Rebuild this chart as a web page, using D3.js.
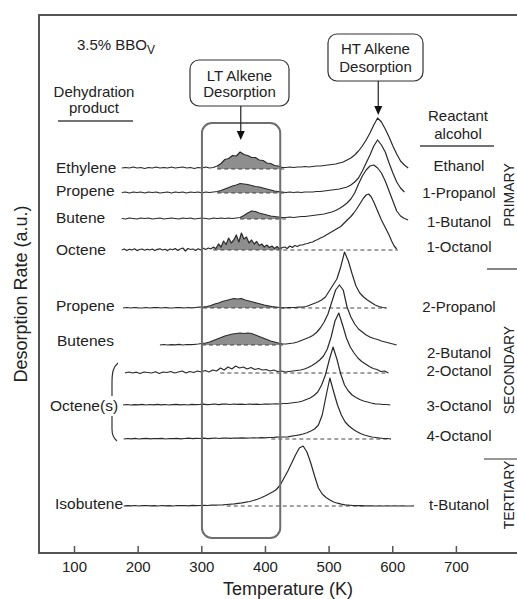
<!DOCTYPE html>
<html>
<head>
<meta charset="utf-8">
<script src="https://cdn.jsdelivr.net/npm/d3@7"></script>
<style>
  html, body { margin: 0; padding: 0; background: #fff; }
  svg { display: block; font-family: "Liberation Sans", Arial, Helvetica, sans-serif; }
</style>
</head>
<body>
<svg id="chart" width="517" height="599"></svg>
<script>
// ---- Data -------------------------------------------------------------
// Reactant alcohols, one TPD trace each (top to bottom)
const alcohols = ["Ethanol", "1-Propanol", "1-Butanol", "1-Octanol",
                  "2-Propanol", "2-Butanol", "2-Octanol", "3-Octanol", "4-Octanol",
                  "t-Butanol"];
// Dehydration product named beside each trace ("" = covered by a group label)
const products = ["Ethylene", "Propene", "Butene", "Octene",
                  "Propene", "Butenes", "", "Octene(s)", "",
                  "Isobutene"];
const alcoholClasses = ["PRIMARY", "SECONDARY", "TERTIARY"];
// Vertical offset of each trace (a.u.)
const offsets = [38.4, 36.0, 33.4, 30.3, 24.5, 20.8, 18.0, 14.8, 11.4, 4.7];
// First temperature (K) and temperature step (K) of each trace
const traceStart = [175, 175, 175, 175, 177, 235, 180, 177, 178, 178];
const traceStep  = [6, 6, 6, 4, 6, 6, 6, 6, 6, 6];

// Desorption rate above each trace's offset (a.u.)
const rateEthanol = [
  0.1, 0.15, 0.1, 0.2, 0.1, 0.15, 0.05, 0.15, 0.1, 0.2, 0.1, 0.15, 0.1, 0.2, 0.1, 0.15, 0.2, 0.1, 0.15, 0.05, 0.15, 0.1, 0.2, 0.1, 0.15,
  0.3, 0.55, 0.95, 1.05, 1.35, 1.3, 1.7, 1.45, 1.35, 1.15, 1.15, 0.9, 0.85, 0.6, 0.55, 0.35, 0.3, 0.15,
  0.15, 0.2, 0.15, 0.2, 0.2, 0.25, 0.2, 0.25, 0.3, 0.3, 0.35, 0.4, 0.45, 0.5, 0.6, 0.7, 0.9, 1.1, 1.4, 1.8,
  2.3, 2.9, 3.6, 4.4, 5.1, 4.7, 4.0, 3.2, 2.3, 1.5, 0.8, 0.4, 0.1];
const rate1Propanol = [
  0.05, 0.1, 0, 0.1, 0.05, 0.1, 0, 0.1, 0.05, 0.1, 0, 0.05, 0.1, 0, 0.1, 0.05, 0.1, 0, 0.1, 0.05, 0.1, 0, 0.1, 0.05, 0.1,
  0.15, 0.25, 0.4, 0.55, 0.7, 0.8, 0.95, 0.9, 0.85, 0.75, 0.65, 0.6, 0.5, 0.4, 0.3, 0.2, 0.15, 0.1,
  0.05, 0.1, 0.05, 0.1, 0.05, 0.1, 0.1, 0.1, 0.15, 0.15, 0.2, 0.25, 0.3, 0.35, 0.4, 0.5, 0.6, 0.8, 1.1, 1.5,
  2.2, 3.0, 3.8, 4.7, 5.3, 4.8, 4.1, 3.0, 2.0, 1.1, 0.5, 0.1];
const rate1Butanol = [
  0.05, 0, 0.1, 0.05, 0, 0.1, 0.05, 0.1, 0, 0.05, 0.1, 0, 0.05, 0.1, 0.05, 0, 0.1, 0.05, 0.1, 0, 0.05, 0.1, 0.05, 0, 0.1, 0.05, 0.1, 0.05, 0.1, 0.05, 0.1,
  0.15, 0.35, 0.6, 0.8, 0.75, 0.6, 0.5, 0.4, 0.3, 0.25, 0.2, 0.15, 0.15, 0.2, 0.15, 0.2, 0.25, 0.25, 0.3, 0.35,
  0.4, 0.45, 0.5, 0.6, 0.7, 0.85, 1.05, 1.3, 1.6, 2.0, 2.6, 3.5, 4.3, 4.9, 5.3, 5.4, 5.1, 4.6, 3.8, 2.8,
  1.8, 0.8, 0.3, 0.05, -0.1];
const rate1Octanol = [
  0, 0.1, -0.05, 0.08, 0, 0.12, -0.06, 0.05, 0.1, -0.02, 0.08, 0, 0.1, -0.05, 0.06, 0.12, 0, 0.08, -0.06, 0.1,
  0.02, 0.14, -0.04, 0.1, 0.2, -0.1, 0.15, 0.05, 0.1, -0.05, 0.12, 0, 0.18, 0.05, 0.2, 0.1,
  0.3, 0.15, 0.6, 0.3, 0.9, 0.55, 1.2, 0.7, 1.0, 1.5, 0.8, 1.7, 1.1, 1.3, 0.7, 1.0, 0.6, 0.85, 0.45, 0.6,
  0.3, 0.5, 0.25, 0.4, 0.15, 0.35, 0.1, 0.25,
  0.3, 0.15, 0.4, 0.25, 0.45, 0.35, 0.5, 0.5, 0.6, 0.65, 0.75, 0.8, 0.95, 1.05, 1.2, 1.3, 1.45, 1.6, 1.75, 1.9,
  2.05, 2.2, 2.35, 2.6, 2.85, 3.1, 3.35, 3.65, 4.0, 4.4, 4.8, 5.2, 5.5, 5.6, 5.3, 4.8, 4.2, 3.6, 3.0, 2.5,
  2.0, 1.5, 0.9, 0.4, 0.1];
const rate2Propanol = [
  0, 0.05, 0, 0.05, 0.02, 0, 0.05, 0, 0.03, 0.05, 0, 0.05, 0.02, 0, 0.05, 0.03, 0, 0.05, 0.02, 0.05, 0.08, 0.1,
  0.15, 0.25, 0.4, 0.5, 0.65, 0.75, 0.85, 0.95, 0.9, 0.95, 0.8, 0.7, 0.6, 0.5, 0.4, 0.3, 0.22, 0.15, 0.1, 0.05, 0.02,
  0.03, 0.05, 0.05, 0.08, 0.1, 0.15, 0.3, 0.45, 0.6, 0.8, 1.1, 1.7, 2.3, 2.9, 4.1, 5.6, 4.7, 3.4, 2.2, 1.5,
  1.1, 0.8, 0.55, 0.3, 0.15, 0.05, 0];
const rate2Butanol = [
  0, 0.05, 0, 0.04, 0.02, 0.06, 0, 0.05, 0.03, 0.06, 0.1, 0.15,
  0.2, 0.3, 0.45, 0.6, 0.75, 0.9, 1.0, 1.1, 1.15, 1.2, 1.15, 1.2, 1.15, 1.0, 0.85, 0.7, 0.55, 0.4, 0.3, 0.2, 0.12,
  0.1, 0.15, 0.2, 0.3, 0.45, 0.6, 0.75, 0.95, 1.25, 1.7, 2.3, 3.1, 4.3, 5.5, 6.0, 5.5, 3.8, 2.8, 2.1, 1.6,
  1.3, 1.0, 0.8, 0.65, 0.55, 0.4, 0.3, 0.2, 0.1, 0];
const rate2Octanol = [
  0, 0.1, 0, 0.08, -0.05, 0.1, 0.05, 0, 0.12, -0.05, 0.1, 0.05, 0.15, 0, 0.1, 0.2, 0, 0.15, 0.05, 0.2, 0.1, 0.25, 0.1, 0.3,
  0.2, 0.5, 0.3, 0.6, 0.4, 0.7, 0.5, 0.6, 0.4, 0.55, 0.35, 0.45, 0.3, 0.35, 0.2, 0.3, 0.15, 0.2, 0.1,
  0.15, 0.2, 0.25, 0.3, 0.4, 0.55, 0.75, 1.0, 1.3, 1.7, 2.4, 3.6, 5.2, 6.0, 4.8, 3.5, 2.6, 2.0, 1.5, 1.15,
  0.9, 0.65, 0.45, 0.35, 0.15, 0.2, 0];
const rate3Octanol = [
  0, 0.05, 0, 0.04, 0.02, 0.06, 0, 0.05, 0.02, 0.06, 0.01, 0.05, 0, 0.04, 0.06, 0.02, 0.05, 0, 0.06, 0.03, 0.05, 0.08,
  0.03, 0.06, 0.1, 0.04, 0.08, 0.1, 0.05, 0.1, 0.06, 0.08, 0.05, 0.1, 0.06, 0.09, 0.05, 0.1, 0.08, 0.1, 0.12, 0.1, 0.15, 0.15,
  0.2, 0.25, 0.3, 0.4, 0.55, 0.7, 0.95, 1.3, 2.0, 3.0, 4.5, 5.8, 4.6, 3.1, 2.0, 1.4, 1.0, 0.75, 0.55, 0.4,
  0.3, 0.2, 0.12, 0.1, 0.05, 0.05, 0];
const rate4Octanol = [
  0, 0.05, 0.02, 0.06, 0, 0.04, 0.06, 0.01, 0.05, 0.03, 0.06, 0, 0.05, 0.04, 0.07, 0.02, 0.05, 0.08, 0.03, 0.06, 0.05,
  0.08, 0.04, 0.07, 0.1, 0.05, 0.08, 0.1, 0.06, 0.1, 0.08, 0.12, 0.08, 0.1, 0.12, 0.1, 0.14, 0.12, 0.15, 0.15, 0.18, 0.2,
  0.2, 0.22, 0.28, 0.35, 0.42, 0.5, 0.62, 0.8, 1.0, 1.4, 2.4, 4.3, 6.1, 4.7, 3.4, 2.4, 1.7, 1.3, 1.0, 0.75,
  0.55, 0.4, 0.3, 0.2, 0.15, 0.1, 0.05, 0.05, 0];
const rateTButanol = [
  0, 0.04, 0.01, 0.05, 0, 0.03, 0.05, 0.01, 0.04, 0, 0.05, 0.02, 0.04, 0, 0.05, 0.03, 0.05, 0.02, 0.06, 0.03, 0.05, 0.07, 0.05, 0.08, 0.08,
  0.1, 0.12, 0.15, 0.18, 0.22, 0.27, 0.32, 0.38, 0.45, 0.55, 0.68, 0.82, 1.0, 1.2, 1.4, 1.65, 2.1, 2.8, 3.5, 4.3,
  5.1, 5.8, 6.0, 5.4, 4.3, 3.0, 1.8, 1.2, 0.85, 0.6, 0.4, 0.28, 0.18, 0.12, 0.08, 0.05, 0.04, 0.03, 0.02, 0.02,
  0.01, 0, 0.01, 0, 0.01, 0, 0.01, 0, 0.01, 0, 0, 0.01];
const rates = [rateEthanol, rate1Propanol, rate1Butanol, rate1Octanol,
               rate2Propanol, rate2Butanol, rate2Octanol, rate3Octanol, rate4Octanol,
               rateTButanol];

// Shaded low-temperature alkene desorption (K range), per trace
const ltShade = [[325, 427], [325, 427], [361, 427], [319, 427],
                 [303, 429], [301, 427], null, null, null, null];
// Dashed zero line under each trace (K range)
const zeroLine = [[325, 433], [325, 433], [361, 433], [319, 609],
                  [303, 591], [301, 433], [330, 594], null, [410, 598], [340, 555]];

// Temperature window of the LT / HT features (K)
const ltWindow = [301, 424];
const ltArrowT = 362;
const htArrowT = 578;
const xTicks = [100, 200, 300, 400, 500, 600, 700];

// ---- Layout -----------------------------------------------------------
const svg = d3.select("#chart");
const plot = { left: 39, right: 517, top: 15, bottom: 553 };
const x = d3.scaleLinear().domain([45, 796]).range([plot.left, plot.right]);
const y = d3.scaleLinear().domain([0, 53.8]).range([plot.bottom, plot.top]);
const ink = "#222";
const fs = 15;

// traces
rates.forEach((vals, i) => {
  const pts = vals.map((v, k) => ({ t: traceStart[i] + k * traceStep[i], v }));
  const base = offsets[i];
  if (ltShade[i]) {
    const seg = pts.filter(p => p.t >= ltShade[i][0] && p.t <= ltShade[i][1]);
    svg.append("path")
      .attr("d", d3.area().x(p => x(p.t)).y0(y(base)).y1(p => y(base + Math.max(p.v, 0)))(seg))
      .attr("fill", "#8e8e8e");
  }
  if (zeroLine[i]) {
    svg.append("line")
      .attr("x1", x(zeroLine[i][0])).attr("x2", x(zeroLine[i][1]))
      .attr("y1", y(base)).attr("y2", y(base))
      .attr("stroke", "#444").attr("stroke-width", 1)
      .attr("stroke-dasharray", "4,3");
  }
  svg.append("path")
    .attr("d", d3.line().x(p => x(p.t)).y(p => y(base + p.v))(pts))
    .attr("fill", "none").attr("stroke", "#2a2a2a").attr("stroke-width", 1.2)
    .attr("stroke-linejoin", "round");
});

// LT window box
svg.append("rect")
  .attr("x", x(ltWindow[0])).attr("y", 123)
  .attr("width", x(ltWindow[1]) - x(ltWindow[0])).attr("height", 538 - 123)
  .attr("rx", 10).attr("ry", 10)
  .attr("fill", "none").attr("stroke", "#6e6e6e").attr("stroke-width", 2);

// frame: left, top, bottom
svg.append("path")
  .attr("d", `M${plot.right},${plot.top} H${plot.left} V${plot.bottom} H${plot.right}`)
  .attr("fill", "none").attr("stroke", "#555").attr("stroke-width", 2);

// x axis ticks and labels
const xAxis = d3.axisBottom(x).tickValues(xTicks).tickSizeInner(-7).tickSizeOuter(0).tickPadding(8);
const gx = svg.append("g").attr("transform", `translate(0,${plot.bottom})`).call(xAxis);
gx.select(".domain").remove();
gx.selectAll(".tick line").attr("stroke", "#555").attr("stroke-width", 1.5);
gx.selectAll(".tick text").attr("fill", ink).attr("font-size", fs)
  .attr("font-family", '"Liberation Sans", Arial, sans-serif');

// axis titles
svg.append("text").attr("x", 288).attr("y", 595).attr("text-anchor", "middle")
  .attr("font-size", 18).attr("fill", ink).text("Temperature (K)");
svg.append("text").attr("transform", "translate(27,294) rotate(-90)").attr("text-anchor", "middle")
  .attr("font-size", 18).attr("fill", ink).text("Desorption Rate (a.u.)");

// catalyst label
const cat = svg.append("text").attr("x", 77).attr("y", 49.5).attr("font-size", fs).attr("fill", ink);
cat.append("tspan").text("3.5% BBO");
cat.append("tspan").attr("dy", 4).attr("font-size", 12).text("V");

// column headers
function header(lines, cx, ys, ruleY, x1, x2) {
  lines.forEach((s, k) => svg.append("text").attr("x", cx).attr("y", ys[k])
    .attr("text-anchor", "middle").attr("font-size", fs).attr("fill", ink).text(s));
  svg.append("line").attr("x1", x1).attr("x2", x2).attr("y1", ruleY).attr("y2", ruleY)
    .attr("stroke", "#444").attr("stroke-width", 1.5);
}
header(["Dehydration", "product"], 94, [97, 113], 121, 58, 133);
header(["Reactant", "alcohol"], 458, [120.5, 138.5], 146, 420, 494);

// callouts
function callout(lines, bx, by, bw, bh, ys, tipT, tipY) {
  svg.append("rect").attr("x", bx).attr("y", by).attr("width", bw).attr("height", bh)
    .attr("rx", 9).attr("ry", 9).attr("fill", "#fff").attr("stroke", "#333").attr("stroke-width", 1.2);
  lines.forEach((s, k) => svg.append("text").attr("x", bx + bw / 2).attr("y", ys[k])
    .attr("text-anchor", "middle").attr("font-size", fs).attr("fill", ink).text(s));
  const ax = x(tipT);
  svg.append("line").attr("x1", ax).attr("x2", ax).attr("y1", by + bh).attr("y2", tipY - 7)
    .attr("stroke", "#222").attr("stroke-width", 1.2);
  svg.append("path").attr("d", `M${ax - 4},${tipY - 9} L${ax + 4},${tipY - 9} L${ax},${tipY} Z`)
    .attr("fill", "#111");
}
callout(["LT Alkene", "Desorption"], 190, 60, 99, 46, [80.5, 96.5], ltArrowT, 140);
callout(["HT Alkene", "Desorption"], 328, 34, 95, 47, [53.5, 72], htArrowT, 115);

// row labels
const productNudge = [-1, -2, -1, 0, -2, -4, 0, 1, 0, -2];
const productX =     [56, 56, 56, 56, 56, 57, 0, 50, 0, 55];
products.forEach((p, i) => {
  if (!p) return;
  svg.append("text").attr("x", productX[i]).attr("y", y(offsets[i]) + productNudge[i] + 5.3)
    .attr("font-size", fs + 0.5).attr("fill", ink).text(p);
});
const alcoholNudge = [-3, 0, 3, -3, -1, 8, -2, 1, -3, -1];
alcohols.forEach((a, i) => {
  svg.append("text").attr("x", 459).attr("y", y(offsets[i]) + alcoholNudge[i] + 5.3)
    .attr("text-anchor", "middle").attr("font-size", fs).attr("fill", ink).text(a);
});

// bracket grouping the three octene traces
svg.append("path")
  .attr("d", "M118,363 C113,367 112,373 112,383 L112,396 M112,416 L112,429 C112,435 113,438 117,441")
  .attr("fill", "none").attr("stroke", "#333").attr("stroke-width", 1.2);

// alcohol classes on the right edge
const classCenters = [195, 370, 495];
alcoholClasses.forEach((c, k) => {
  svg.append("text").attr("transform", `translate(513.5,${classCenters[k]}) rotate(-90)`)
    .attr("text-anchor", "middle").attr("font-size", 14).attr("fill", ink).text(c);
});
[269, 459].forEach((sy, k) => {
  svg.append("line").attr("x1", k ? 484 : 487).attr("x2", 517).attr("y1", sy).attr("y2", sy)
    .attr("stroke", "#333").attr("stroke-width", 1.2);
});
</script>
</body>
</html>
